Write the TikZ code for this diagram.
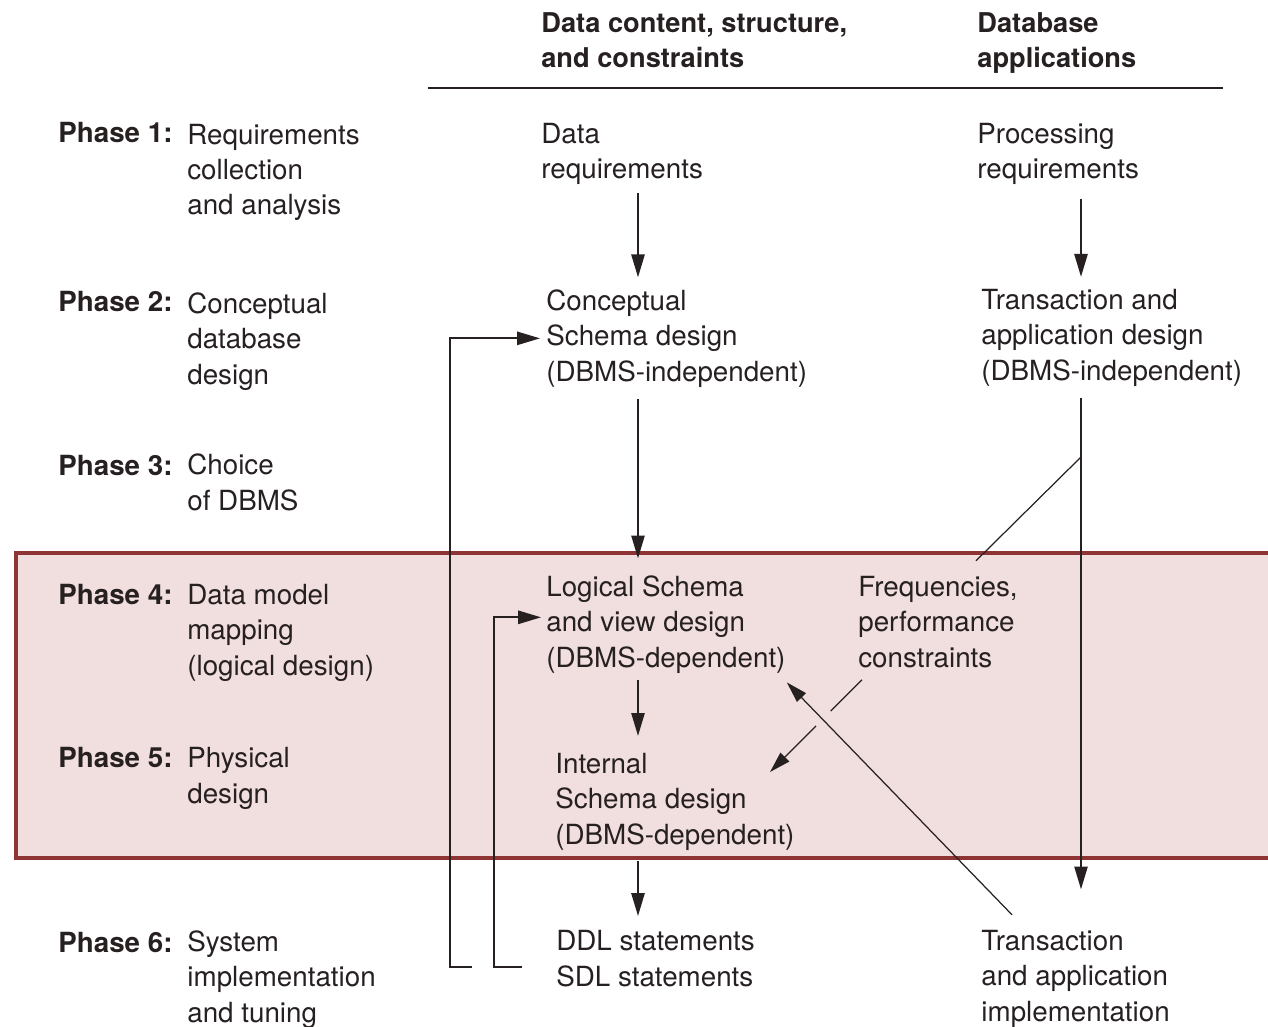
\documentclass[tikz,border=0pt]{standalone}
\usepackage{fontspec}
\setmainfont{TeX Gyre Heros}
\usepackage{tikz}
\usetikzlibrary{arrows.meta,calc,positioning}
\definecolor{ink}{RGB}{38,32,33}
\definecolor{phasefill}{RGB}{241,222,222}
\definecolor{phaseline}{RGB}{142,52,52}

\begin{document}
\begin{tikzpicture}[
  x=0.02cm, y=-0.02cm,
  txt/.style={anchor=base west, inner sep=0pt, align=left, text=ink,
              font=\fontsize{15.8}{20.1}\selectfont},
  head/.style={txt, font=\fontsize{15.5}{20.1}\selectfont\bfseries},
  phase/.style={txt, font=\fontsize{15.8}{20.1}\selectfont\bfseries},
  arr/.style={-{Triangle[length=13pt,width=7.5pt]}, line width=1.1pt, draw=ink},
  thinarr/.style={-{Triangle[length=12pt,width=7pt]}, line width=0.7pt, draw=ink},
  thinline/.style={line width=0.7pt, draw=ink},
]
\useasboundingbox (0,0) rectangle (1268,1027);

% phases 4 and 5 band, open to the right
\fill[phasefill] (16,553) rectangle (1268,858);
\draw[phaseline, line width=2.3pt] (1268,553) -- (16,553) -- (16,858) -- (1268,858);

% column heads (base = last line)
\node[head] (hdata) at (541,68) {Data content, structure,\\and constraints};
\node[head] (happ)  at (977,68) {Database\\applications};
\draw[line width=1.1pt, draw=ink] (428,88) -- (1223,88);

% phases
\node[phase] (p1) at (58,143) {Phase 1:};
\node[phase] (p2) at (58,312) {Phase 2:};
\node[phase] (p3) at (58,475) {Phase 3:};
\node[phase] (p4) at (58,604) {Phase 4:};
\node[phase] (p5) at (58,767) {Phase 5:};
\node[phase] (p6) at (58,952) {Phase 6:};
\node[txt] (d1) at (187,215) {Requirements\\collection\\and analysis};
\node[txt] (d2) at (187,384) {Conceptual\\database\\design};
\node[txt] (d3) at (187,510) {Choice\\of DBMS};
\node[txt] (d4) at (187,675) {Data model\\mapping\\(logical design)};
\node[txt] (d5) at (187,803) {Physical\\design};
\node[txt] (d6) at (187,1022) {System\\implementation\\and tuning};

% data column
\node[txt] (datareq)  at (541,179) {Data\\requirements};
\node[txt] (concept)  at (546,381) {Conceptual\\Schema design\\(DBMS-independent)};
\node[txt] (logical)  at (546,667) {Logical Schema\\and view design\\(DBMS-dependent)};
\node[txt] (internal) at (555,844) {Internal\\Schema design\\(DBMS-dependent)};
\node[txt] (ddl)      at (556,986) {DDL statements\\SDL statements};

% application column
\node[txt] (procreq)   at (977,179) {Processing\\requirements};
\node[txt] (transdes)  at (981,380) {Transaction and\\application design\\(DBMS-independent)};
\node[txt] (freq)      at (858,667) {Frequencies,\\performance\\constraints};
\node[txt] (transimpl) at (981,1021) {Transaction\\and application\\implementation};

\coordinate (dcol) at (638,0);
\coordinate (acol) at (1081,0);
\coordinate (split) at (1081,457);
\coordinate (fbA) at (472,967);
\coordinate (fbB) at (522,967);

\draw[arr, shorten <=4.5pt, shorten >=6.8pt] (datareq.south -| dcol) -- (concept.north -| dcol);
\draw[arr, shorten <=6.8pt, shorten >=9.6pt] (concept.south -| dcol) -- (logical.north -| dcol);
\draw[arr, shorten <=4pt, shorten >=9.6pt] (logical.south -| dcol) -- (internal.north -| dcol);
\draw[arr, shorten <=6.2pt, shorten >=8pt] (internal.south -| dcol) -- (ddl.north -| dcol);

\draw[arr, shorten <=8pt, shorten >=6.8pt] (procreq.south -| acol) -- (transdes.north -| acol);
\draw[arr, shorten <=6.8pt, shorten >=23pt] (transdes.south -| acol) -- (transimpl.north -| acol);

% feedback from implementation
\draw[arr, shorten >=3.4pt] (fbA) -- (450,967) |- (concept.west);
\draw[arr, shorten >=2.8pt] (fbB) -- (494,967) |- ([yshift=4pt]logical.west);

\draw[thinline] (split) -- ([shift={(118,-15)}]freq.north west);
\coordinate (fq) at ([shift={(4,12)}]freq.south west);
\coordinate (fqend) at (770,772);
\draw[thinline] (fq) -- ($(fq)!0.34!(fqend)$);
\draw[thinarr] ($(fq)!0.5!(fqend)$) -- (fqend);
\draw[thinarr] ([shift={(31,-15)}]transimpl.north west) -- ([shift={(1,9)}]logical.south east);
\end{tikzpicture}
\end{document}
